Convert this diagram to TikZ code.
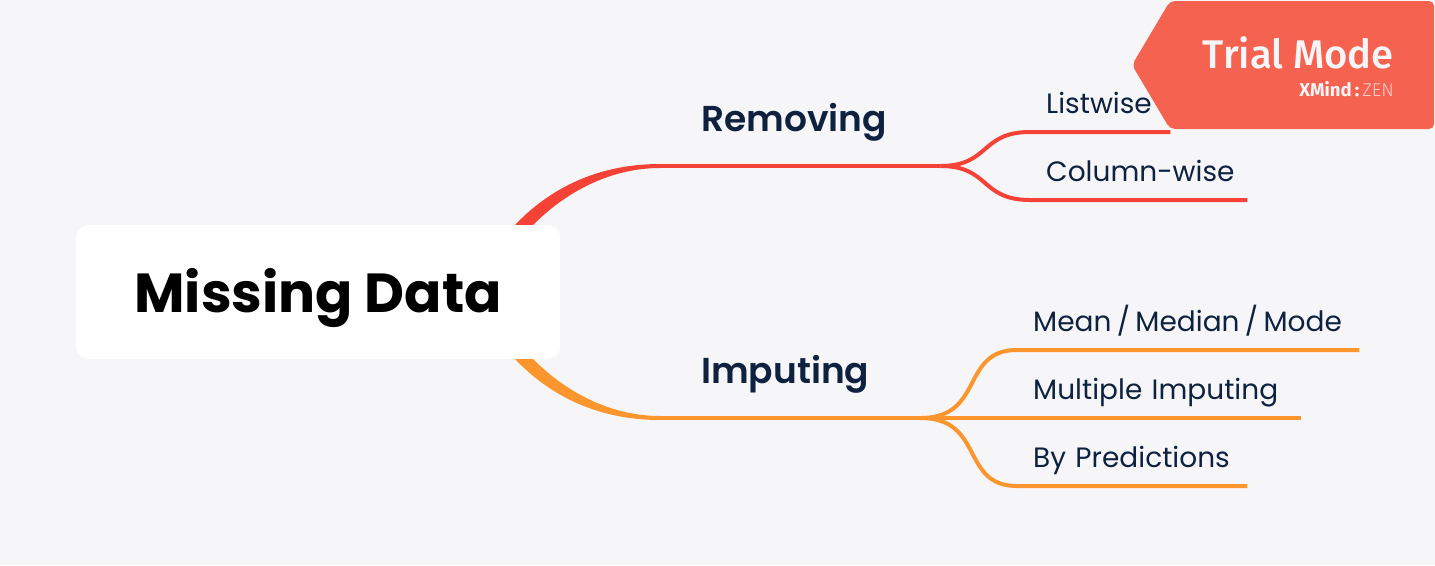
\documentclass[tikz,border=0pt]{standalone}
\usepackage{fontspec}
\setmainfont{Poppins}
\newfontfamily\semifont{Poppins SemiBold}
\newfontfamily\trialfont{Fira Sans Medium}
\newfontfamily\brandfont{Fira Sans}
\newfontfamily\zenfont{Fira Sans Light}
\usetikzlibrary{positioning}
\definecolor{pagebg}{HTML}{F6F6F9}
\definecolor{navy}{HTML}{0E2240}
\definecolor{redline}{HTML}{F44336}
\definecolor{orangeline}{HTML}{FB962F}
\definecolor{banner}{HTML}{F56350}
\tikzset{
	topic/.style = {fill=white, rounded corners=12pt, minimum width=484pt, minimum height=134pt, inner sep=0pt, text height=44pt, text depth=4pt, font={\fontsize{55}{60}\selectfont\bfseries}},
	branchbox/.style = {anchor=south west, text width=#1-82pt, inner xsep=41pt, inner ysep=26pt, text height=24pt, text depth=8pt, font={\semifont\fontsize{36}{39}\selectfont}, text=navy, align=left},
	leaf/.style = {anchor=south west, text width=#1-32pt, inner xsep=16pt, inner ysep=12pt, text height=20pt, text depth=6pt, font={\fontsize{28}{30}\selectfont}, text=navy, align=left},
	conn/.style = {line width=4pt}
}
\begin{document}
\begin{tikzpicture}[x=1pt,y=-1pt]
	\useasboundingbox[fill=pagebg] (0,0) rectangle (1435,565);

	% Main topic and branches
	\node[topic] (data) at (318,292) {Missing Data};
	\node[branchbox=280pt] (removing) at (660,166) {Removing};
	\node[branchbox=260pt] (imputing) at (660,418) {Imputing};

	% Leaves
	\node[leaf=140pt] (listwise) at (1030,132) {Listwise};
	\node[leaf=217pt] (column) at (1030,200) {\mbox{Column-wise}};
	\node[leaf=342pt] (mean) at (1017,350) {Mean\hspace{-4pt} / \hspace{-4pt}Median\hspace{-4pt} / \hspace{-4pt}Mode};
	\node[leaf=284pt] (multiple) at (1017,418) {Multiple Imputing};
	\node[leaf=230pt] (predictions) at (1017,486) {By Predictions};

	% Tapered connectors
	\fill[redline] ([yshift=2pt]removing.south west) .. controls (605,164) and (555,183) .. ([xshift=-45pt]data.north east)
		-- ([xshift=-27pt]data.north east) .. controls (570,188) and (615,168) .. ([yshift=-2pt]removing.south west) -- cycle;
	\fill[orangeline] ([yshift=-2pt]imputing.south west) .. controls (605,420) and (555,401) .. ([xshift=-45pt]data.south east)
		-- ([xshift=-27pt]data.south east) .. controls (570,396) and (615,416) .. ([yshift=2pt]imputing.south west) -- cycle;

	\draw[conn, redline] (removing.south west) -- (removing.south east);
	\draw[conn, orangeline] (imputing.south west) -- (imputing.south east);

	\draw[conn, redline] (removing.south east) .. controls (990,166) and (980,132) .. (listwise.south west) -- (listwise.south east);
	\draw[conn, redline] (removing.south east) .. controls (990,166) and (980,200) .. (column.south west) -- (column.south east);

	\draw[conn, orangeline] (imputing.south east) .. controls (985,418) and (960,350) .. (mean.south west) -- (mean.south east);
	\draw[conn, orangeline] (imputing.south east) -- (multiple.south west) -- (multiple.south east);
	\draw[conn, orangeline] (imputing.south east) .. controls (985,418) and (960,486) .. (predictions.south west) -- (predictions.south east);

	% Trial banner
	\fill[banner, rounded corners=5pt] (1170,1) -- (1434,1) -- (1434,129) -- (1170,129) -- (1132,65) -- cycle;
	\node[anchor=base east, inner sep=0pt, text=pagebg, font={\trialfont\fontsize{40}{44}\selectfont}] (trial) at (1394,68) {Trial Mode};
	\node[anchor=base east, inner sep=0pt, text=pagebg, font={\fontsize{18.5}{20}\selectfont}] (zen) at (1394,96) {{\brandfont\bfseries XMind\,:}\,{\zenfont\color{pagebg!75!banner}ZEN}};
\end{tikzpicture}
\end{document}
